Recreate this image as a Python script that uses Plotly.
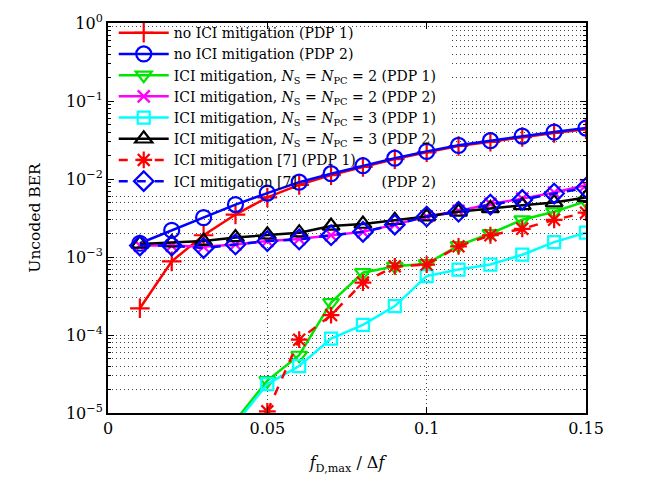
import plotly.graph_objects as go

x = [0.01, 0.02, 0.03, 0.04, 0.05, 0.06, 0.07, 0.08, 0.09, 0.10, 0.11, 0.12, 0.13, 0.14, 0.15]

no_ici_pdp1 = [2.2e-4, 8.8e-4, 1.9e-3, 3.5e-3, 5.8e-3, 8.4e-3, 1.12e-2, 1.43e-2, 1.8e-2, 2.2e-2, 2.65e-2, 3.0e-2, 3.45e-2, 3.9e-2, 4.35e-2]
no_ici_pdp2 = [1.5e-3, 2.2e-3, 3.2e-3, 4.7e-3, 6.6e-3, 9.1e-3, 1.17e-2, 1.48e-2, 1.85e-2, 2.26e-2, 2.7e-2, 3.1e-2, 3.55e-2, 4.0e-2, 4.5e-2]
ici_n2_pdp1 = [None, None, None, 8e-6, 2.6e-5, 5.5e-5, 2.6e-4, 6.3e-4, 7.6e-4, 8.2e-4, 1.4e-3, 2.0e-3, 3.0e-3, 3.8e-3, 5.2e-3]
ici_n2_pdp2 = [1.4e-3, 1.4e-3, 1.35e-3, 1.45e-3, 1.6e-3, 1.7e-3, 1.9e-3, 2.1e-3, 2.6e-3, 3.3e-3, 3.9e-3, 4.8e-3, 5.6e-3, 6.7e-3, 8.3e-3]
ici_n3_pdp1 = [None, None, None, 7.3e-6, 2.35e-5, 4.0e-5, 9.0e-5, 1.35e-4, 2.35e-4, 5.7e-4, 6.9e-4, 8.0e-4, 1.07e-3, 1.55e-3, 2.05e-3]
ici_n3_pdp2 = [1.47e-3, 1.53e-3, 1.6e-3, 1.78e-3, 1.93e-3, 2.05e-3, 2.5e-3, 2.65e-3, 2.96e-3, 3.3e-3, 3.8e-3, 4.2e-3, 4.6e-3, 5.0e-3, 5.8e-3]
ici_ref7_pdp1 = [None, None, None, None, 1.05e-5, 8.7e-5, 1.8e-4, 4.7e-4, 7.6e-4, 8.0e-4, 1.37e-3, 1.9e-3, 2.3e-3, 3.0e-3, 3.7e-3]
ici_ref7_pdp2 = [1.4e-3, 1.4e-3, 1.3e-3, 1.45e-3, 1.6e-3, 1.68e-3, 1.9e-3, 2.1e-3, 2.6e-3, 3.3e-3, 3.8e-3, 4.7e-3, 5.4e-3, 6.5e-3, 7.7e-3]

names = [
    "no ICI mitigation (PDP 1)",
    "no ICI mitigation (PDP 2)",
    "ICI mitigation, <i>N</i><sub>S</sub> = <i>N</i><sub>PC</sub> = 2 (PDP 1)",
    "ICI mitigation, <i>N</i><sub>S</sub> = <i>N</i><sub>PC</sub> = 2 (PDP 2)",
    "ICI mitigation, <i>N</i><sub>S</sub> = <i>N</i><sub>PC</sub> = 3 (PDP 1)",
    "ICI mitigation, <i>N</i><sub>S</sub> = <i>N</i><sub>PC</sub> = 3 (PDP 2)",
    "ICI mitigation [7] (PDP 1)",
    "ICI mitigation [7]" + "\u00a0" * 19 + "(PDP 2)",
]
series = [no_ici_pdp1, no_ici_pdp2, ici_n2_pdp1, ici_n2_pdp2, ici_n3_pdp1, ici_n3_pdp2, ici_ref7_pdp1, ici_ref7_pdp2]
colors = ["#ff0000", "#0000ff", "#00e600", "#ff00ff", "#00ffff", "#000000", "#ff0000", "#0000ff"]
symbols = ["cross-thin-open", "circle-open", "triangle-down-open", "x-thin-open", "square-open", "triangle-up-open", "asterisk-open", "diamond-open"]
sizes = [14, 15, 14, 12, 12, 15, 14, 15]
dashes = ["solid"] * 6 + ["dash", "dash"]

# extent of the white legend background (masks the grid, stays under the curves)
legend_box_x = [0.0003, 0.107]
legend_box_y = [10 ** -0.06, 10 ** -2.2]

fig = go.Figure()
fig.add_trace(go.Scatter(
    x=[legend_box_x[0], legend_box_x[1], legend_box_x[1], legend_box_x[0], legend_box_x[0]],
    y=[legend_box_y[0], legend_box_y[0], legend_box_y[1], legend_box_y[1], legend_box_y[0]],
    mode="none", fill="toself", fillcolor="white", showlegend=False, hoverinfo="skip",
))
for n, s, c, sym, sz, d in zip(names, series, colors, symbols, sizes, dashes):
    fig.add_trace(go.Scatter(
        x=x, y=s, name=n, mode="lines+markers",
        line=dict(color=c, width=2.5, dash=d),
        marker=dict(symbol=sym, size=sz, color=c, line=dict(color=c, width=2.2)),
        connectgaps=False,
    ))

font_family = "DejaVu Serif"
grid_dash = "1px,3px"
fig.update_layout(
    width=661, height=481,
    margin=dict(l=108, r=75, t=12, b=65),
    paper_bgcolor="white", plot_bgcolor="white",
    font=dict(family=font_family, size=15, color="black"),
    showlegend=True,
    legend=dict(x=0.012, y=1.015, xanchor="left", yanchor="top",
                bgcolor="rgba(0,0,0,0)", borderwidth=0,
                font=dict(family=font_family, size=14, color="black"),
                tracegroupgap=0, itemwidth=50),
)
fig.update_xaxes(
    range=[0, 0.15], tickvals=[0, 0.05, 0.1, 0.15], ticktext=["0", "0.05", "0.1", "0.15"],
    showline=True, linecolor="black", linewidth=2, mirror="ticks",
    ticks="inside", ticklen=6, tickcolor="black", tickwidth=1,
    showgrid=True, gridcolor="#444", griddash=grid_dash, gridwidth=1,
    zeroline=False,
    title=dict(text="<i>f</i><sub>D,max</sub> / Δ<i>f</i>", font=dict(size=16), standoff=20),
    tickfont=dict(size=16),
)
fig.update_yaxes(
    type="log", range=[-5, 0],
    tickvals=[1e-5, 1e-4, 1e-3, 1e-2, 1e-1, 1],
    ticktext=["10<sup>−5</sup>", "10<sup>−4</sup>", "10<sup>−3</sup>", "10<sup>−2</sup>", "10<sup>−1</sup>", "10<sup>0</sup>"],
    showline=True, linecolor="black", linewidth=2, mirror="ticks",
    ticks="inside", ticklen=6, tickcolor="black", tickwidth=1,
    showgrid=True, gridcolor="#444", griddash=grid_dash, gridwidth=1,
    minor=dict(dtick="D1", ticks="inside", ticklen=3, tickcolor="black",
               showgrid=True, gridcolor="#444", griddash=grid_dash, gridwidth=1),
    zeroline=False,
    title=dict(text="Uncoded BER", font=dict(size=15.5), standoff=22),
    tickfont=dict(size=16),
)

fig.write_html("out.html")
